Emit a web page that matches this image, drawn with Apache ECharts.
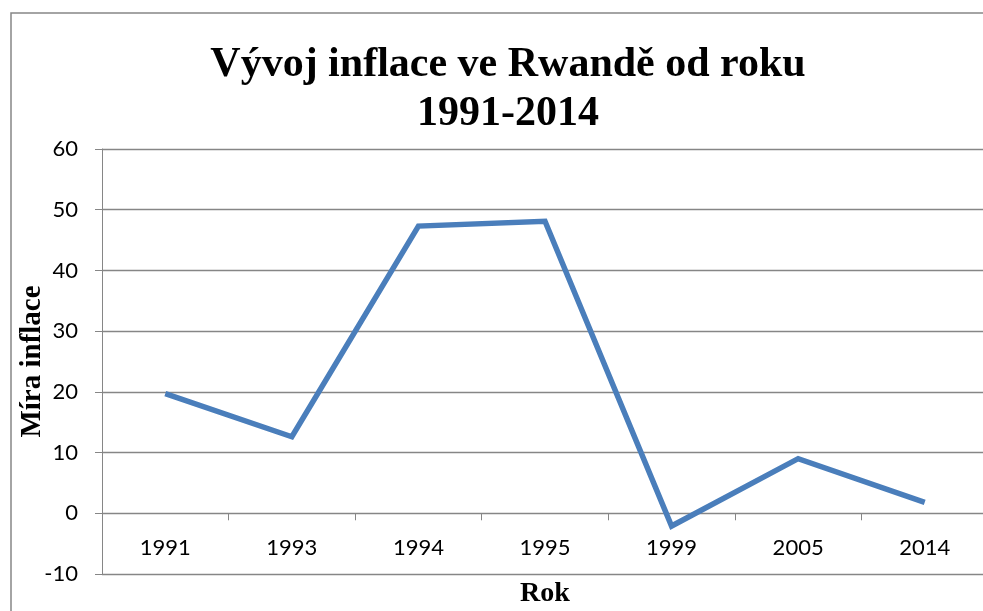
<!DOCTYPE html>
<html>
<head>
<meta charset="utf-8">
<script src="https://cdn.jsdelivr.net/npm/echarts@6/dist/echarts.min.js"></script>
<style>
html,body{margin:0;padding:0;background:#fff;}
#chart{width:983px;height:611px;}
</style>
</head>
<body>
<div id="chart"></div>
<script>
const categories = ['1991', '1993', '1994', '1995', '1999', '2005', '2014'];
const inflation = [19.7, 12.6, 47.3, 48.1, -2.1, 9.0, 1.8];
const yTicks = { min: -10, max: 60, interval: 10 };
const titleText = 'Vývoj inflace ve Rwandě od roku\n1991-2014';
const xName = 'Rok';
const yName = 'Míra inflace';

const chart = echarts.init(document.getElementById('chart'));
const gray = '#868686';
chart.setOption({
  backgroundColor: '#fff',
  animation: false,
  title: {
    text: titleText,
    left: 503,
    top: 36,
    textAlign: 'center',
    textStyle: {
      fontFamily: 'Liberation Serif',
      fontWeight: 'bold',
      fontSize: 42,
      lineHeight: 49,
      color: '#000'
    }
  },
  graphic: [{
    type: 'rect',
    shape: { x: 11, y: 13, width: 1000, height: 700 },
    style: { fill: 'none', stroke: gray, lineWidth: 1.5 },
    silent: true,
    z: -1
  }],
  grid: { left: 102, right: -5, top: 149, bottom: 37, containLabel: false, outerBoundsMode: 'none' },
  xAxis: {
    type: 'category',
    data: categories,
    boundaryGap: true,
    name: xName,
    nameLocation: 'middle',
    nameGap: 6,
    nameMoveOverlap: false,
    nameTextStyle: { fontFamily: 'Liberation Serif', fontWeight: 'bold', fontSize: 28, color: '#000' },
    axisLine: { onZero: true, lineStyle: { color: gray, width: 1 } },
    axisTick: { show: true, inside: false, length: 7, alignWithLabel: false, lineStyle: { color: gray } },
    axisLabel: { margin: -37, fontFamily: 'Lato', fontSize: 22, color: '#000', interval: 0, verticalAlign: 'top' },
    splitLine: { show: false }
  },
  yAxis: {
    type: 'value',
    min: yTicks.min,
    max: yTicks.max,
    interval: yTicks.interval,
    name: yName,
    nameLocation: 'middle',
    nameRotate: 90,
    nameGap: 55,
    nameMoveOverlap: false,
    nameTextStyle: { fontFamily: 'Liberation Serif', fontWeight: 'bold', fontSize: 29, color: '#000' },
    axisLine: { show: true, lineStyle: { color: gray, width: 1 } },
    axisTick: { show: true, inside: false, length: 7, lineStyle: { color: gray } },
    axisLabel: { margin: 24, fontFamily: 'Lato', fontSize: 22, color: '#000' },
    splitLine: { show: true, lineStyle: { color: gray, width: 1.3 } }
  },
  series: [{
    type: 'line',
    data: inflation,
    symbol: 'none',
    lineStyle: { color: '#4A7EBB', width: 5.5, join: 'miter', cap: 'butt' },
    itemStyle: { color: '#4A7EBB' }
  }]
});
</script>
</body>
</html>
